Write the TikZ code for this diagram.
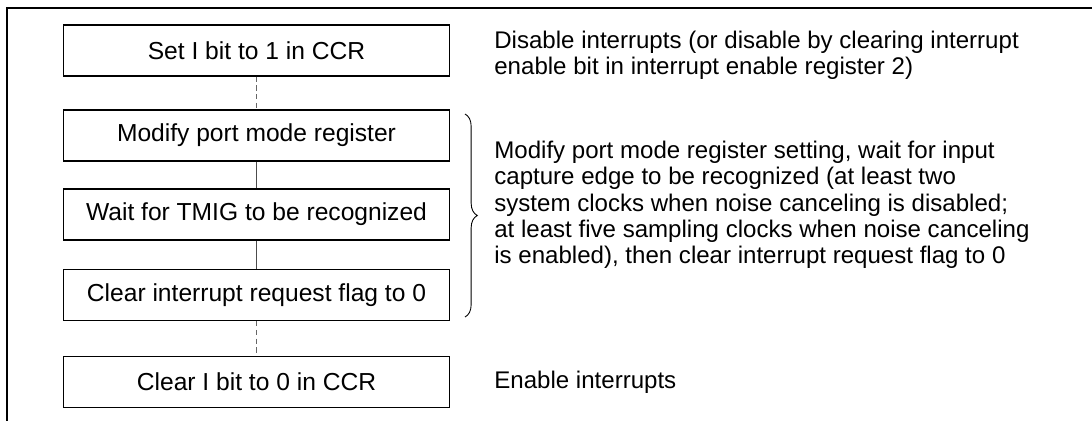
\documentclass[tikz,border=0pt]{standalone}
\usepackage{fontspec}
\setmainfont{Liberation Sans}
\usetikzlibrary{decorations.pathreplacing}

\begin{document}
\begin{tikzpicture}[x=0.02cm,y=-0.02cm]
 \tikzset{
 	stepbox/.style={draw, line width=0.6pt, minimum width=7.74cm, minimum height=1.02cm,
 		inner sep=0pt, font=\fontsize{14}{15}\selectfont},
 	note/.style={anchor=west, align=left, inner sep=0pt, font=\fontsize{13.7}{15}\selectfont},
 	solidlink/.style={draw=black!70, line width=0.5pt},
 	dashlink/.style={draw=black!60, line width=0.5pt, dash pattern=on 3pt off 2pt}
 }
 \useasboundingbox (0,0) rectangle (1092,420);
 % frame
 \draw[line width=0.7pt] (7,425) -- (7,8) -- (1095,8);
 % steps
 \node[stepbox] (setI) at (256.5,50.5) {Set I bit to 1 in CCR};
 \node[stepbox] (modify) at (256.5,135.5) {Modify port mode register};
 \node[stepbox] (wait) at (256.5,214.5) {Wait for TMIG to be recognized};
 \node[stepbox] (clearflag) at (256.5,295) {Clear interrupt request flag to 0};
 \node[stepbox] (clearI) at (256.5,382) {Clear I bit to 0 in CCR};
 % links
 \draw[dashlink] (setI) -- (modify);
 \draw[solidlink] (modify) -- (wait);
 \draw[solidlink] (wait) -- (clearflag);
 \draw[dashlink] (clearflag) -- (clearI);
 % brace
 \coordinate (bracetop) at (465,114);
 \coordinate (bracebot) at (465,317);
 \draw[line width=0.5pt, decorate, decoration={brace, amplitude=7pt}] (bracetop) -- (bracebot);
 % notes
 \node[note] (disable) at (494,55) {Disable interrupts (or disable by clearing interrupt\\enable bit in interrupt enable register 2)};
 \node[note] (detail) at (494,205) {Modify port mode register setting, wait for input\\capture edge to be recognized (at least two\\system clocks when noise canceling is disabled;\\at least five sampling clocks when noise canceling\\is enabled), then clear interrupt request flag to 0};
 \node[note] (enable) at (494,382) {Enable interrupts};
\end{tikzpicture}
\end{document}
